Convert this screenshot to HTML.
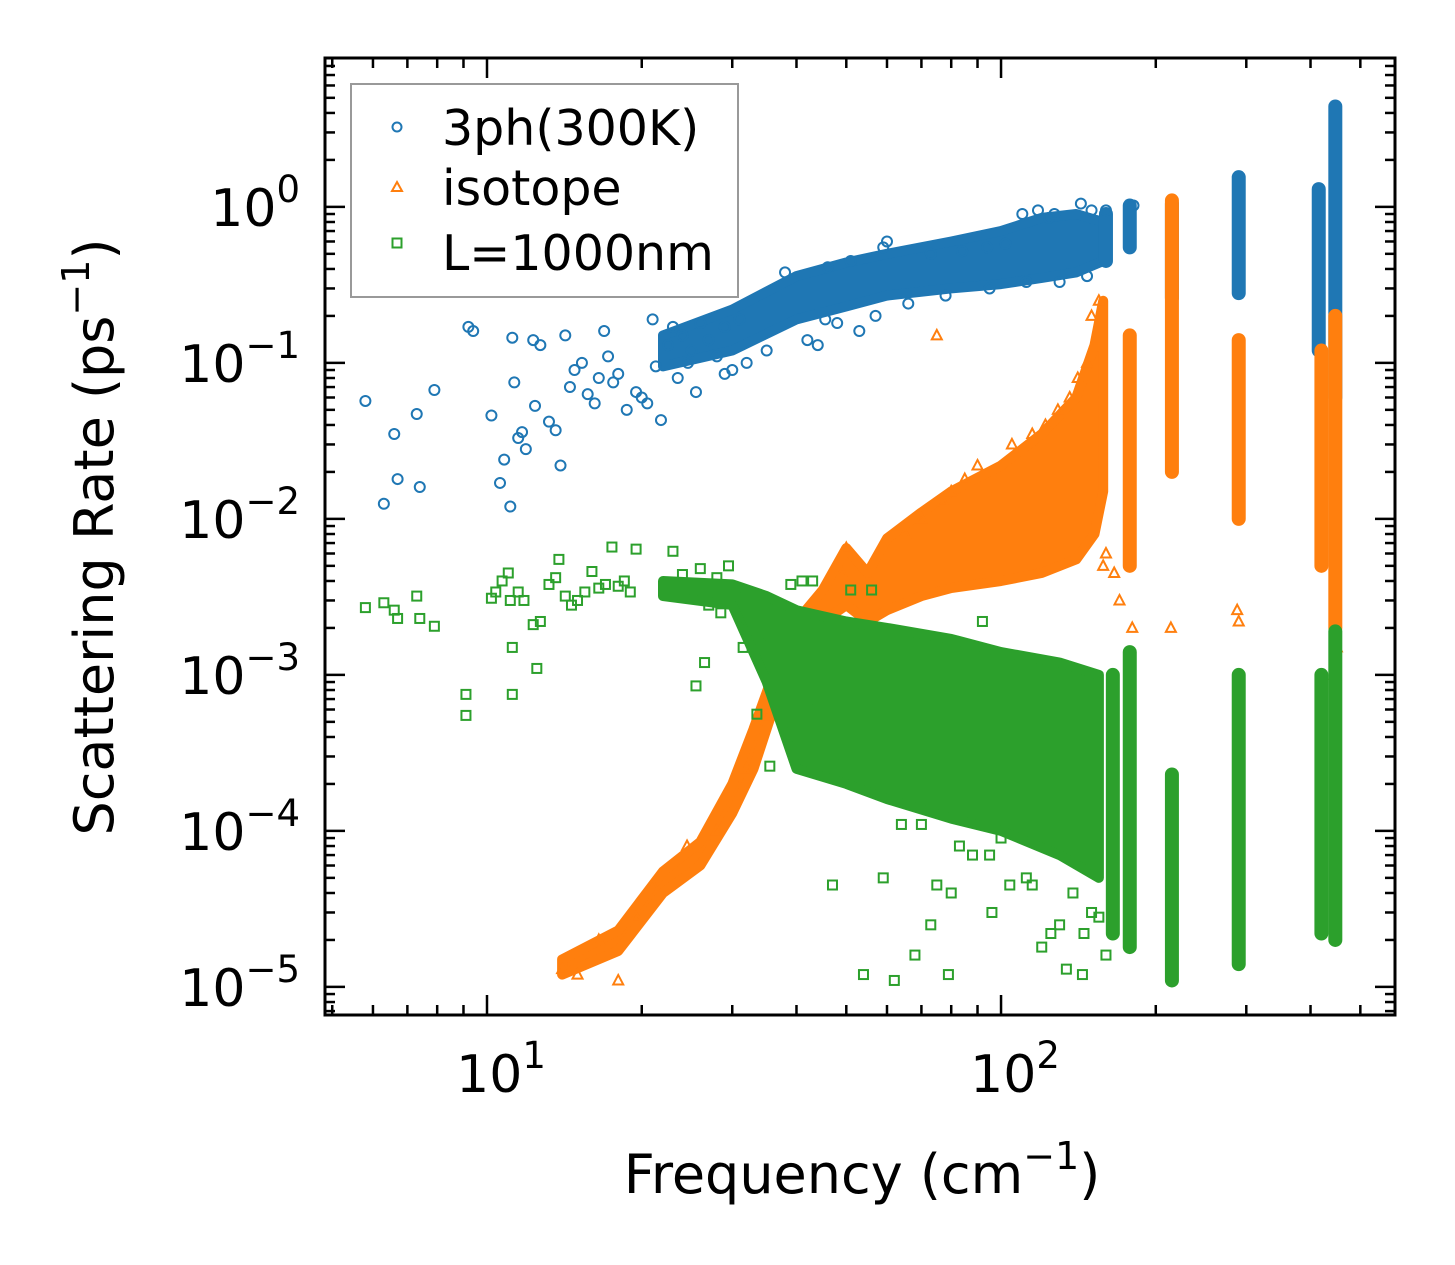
<!DOCTYPE html>
<html><head><meta charset="utf-8">
<style>
html,body{margin:0;padding:0;background:#fff;}
svg{display:block;font-family:"DejaVu Sans","Liberation Sans",sans-serif;}
</style></head>
<body>
<svg id="chart" width="1455" height="1265" viewBox="0 0 1455 1265" xmlns="http://www.w3.org/2000/svg">
<rect width="1455" height="1265" fill="#fff"/>
<g id="marks"></g>
<g id="axes"></g>
<text x="862" y="1193" font-size="54" text-anchor="middle">Frequency (cm<tspan font-size="38" dy="-24">−1</tspan><tspan dy="24">)</tspan></text>
<text transform="translate(113,537) rotate(-90)" font-size="54" text-anchor="middle">Scattering Rate (ps<tspan font-size="38" dy="-24">−1</tspan><tspan dy="24">)</tspan></text>
<g>
<rect x="351" y="84" width="387" height="213" fill="#fff" stroke="#999" stroke-width="2"/>
<circle cx="397" cy="127" r="4.5" fill="none" stroke="#1f77b4" stroke-width="2"/>
<text x="442" y="145" font-size="49">3ph(300K)</text>
<path d="M397,182 L402,191 L392,191 Z" fill="none" stroke="#ff7f0e" stroke-width="2"/>
<text x="442" y="205" font-size="49">isotope</text>
<rect x="392.5" y="238.5" width="9" height="9" fill="none" stroke="#2ca02c" stroke-width="2"/>
<text x="442" y="270" font-size="49">L=1000nm</text>
</g>
</svg>
<script>
// ---- data (freq cm^-1, rate ps^-1) ----
const xTickValues=[10,100];
const xTickLabels=["1","2"];
const yTickValues=[1,0.1,0.01,0.001,0.0001,0.00001];
const yTickLabels=["0","−1","−2","−3","−4","−5"];

const blueBand=[[22,0.095,0.15],[30,0.12,0.22],[40,0.19,0.36],[50,0.23,0.44],[60,0.27,0.5],[80,0.3,0.6],[100,0.32,0.7],[120,0.35,0.85],[140,0.38,0.9],[158,0.45,0.8]];
const blueColumns=[[160,0.45,0.9],[178,0.55,1.02],[215,0.26,1.05],[290,0.28,1.55],[415,0.12,1.3],[447,0.06,4.4]];
const bluePoints=[[5.8,0.057],[6.3,0.0125],[6.6,0.035],[6.7,0.018],[7.3,0.047],[7.4,0.016],[7.9,0.067],[9.2,0.17],[9.4,0.16],[10.2,0.046],[10.6,0.017],[10.8,0.024],[11.1,0.012],[11.2,0.145],[11.3,0.075],[11.5,0.033],[11.7,0.036],[11.9,0.028],[12.3,0.14],[12.4,0.053],[12.7,0.13],[13.2,0.042],[13.6,0.037],[13.9,0.022],[14.2,0.15],[14.5,0.07],[14.8,0.09],[15.3,0.1],[15.7,0.063],[16.2,0.055],[16.5,0.08],[16.9,0.16],[17.2,0.11],[17.6,0.075],[18,0.085],[18.7,0.05],[19.5,0.065],[20,0.06],[20.5,0.055],[21,0.19],[21.3,0.095],[21.8,0.043],[22.5,0.13],[23,0.17],[23.5,0.08],[24,0.15],[24.6,0.1],[25,0.12],[25.5,0.065],[26,0.18],[27,0.14],[28,0.11],[29,0.17],[30,0.09],[31,0.19],[35,0.12],[38,0.38],[42,0.14],[45.5,0.19],[46,0.41],[51,0.45],[53,0.16],[59,0.55],[60,0.6],[73,0.5],[84,0.52],[94,0.55],[102,0.58],[110,0.9],[118,0.95],[124,0.85],[127,0.9],[143,1.05],[150,0.95],[160,0.95],[181,1.02],[147,0.36],[130,0.33],[112,0.33],[95,0.3],[78,0.27],[66,0.24],[57,0.2],[48,0.18],[44,0.13],[32,0.1],[29,0.085]];

const orangeBand=[[14,1.2e-5,1.5e-5],[18,1.7e-5,2.3e-5],[22,4e-5,5.5e-5],[26,6e-5,8.5e-5],[30,1.3e-4,2e-4],[33,2.5e-4,4.5e-4],[36,6e-4,1e-3],[40,1.2e-3,2.2e-3],[45,2.2e-3,3.5e-3],[50,2.8e-3,6.5e-3],[55,2.2e-3,4.5e-3],[60,2.6e-3,7.5e-3],[70,3.2e-3,1.1e-2],[80,3.6e-3,1.5e-2],[100,4e-3,2.2e-2],[120,4.5e-3,3.5e-2],[140,5.5e-3,6e-2],[152,8e-3,1.3e-1],[158,1.5e-2,2.5e-1]];
const orangeColumns=[[178,5e-3,0.15],[215,0.02,1.1],[290,0.01,0.14],[420,5e-3,0.12],[447,2e-3,0.2]];
const orangePoints=[[14,1.3e-5],[15,1.2e-5],[16.5,2e-5],[18,1.1e-5],[19.5,2.8e-5],[21,4.5e-5],[24.5,8e-5],[28,1e-4],[32,2.5e-4],[35,5.5e-4],[38,1.1e-3],[42,2.2e-3],[49,4.5e-3],[50,6.5e-3],[52,6e-4],[55,1e-3],[57,1.5e-3],[65,8e-3],[70,1e-2],[75,0.15],[77,1.3e-2],[80,1.5e-2],[85,1.8e-2],[90,2.2e-2],[105,3e-2],[115,3.5e-2],[122,4e-2],[129,5e-2],[136,6e-2],[141,8e-2],[147,1e-1],[150,2e-1],[155,2.5e-1],[160,6e-3],[158,5e-3],[166,4.5e-3],[170,3e-3],[180,2e-3],[214,2e-3],[288,2.6e-3],[290,2.2e-3],[445,1e-3],[450,1.5e-3]];

const greenBand=[[22,3.2e-3,4e-3],[30,2.8e-3,3.8e-3],[35,9e-4,3.2e-3],[40,2.5e-4,2.6e-3],[50,2e-4,2.2e-3],[60,1.6e-4,2e-3],[80,1.2e-4,1.7e-3],[100,1e-4,1.4e-3],[130,7e-5,1.2e-3],[155,5e-5,1e-3]];
const greenColumns=[[165,2.2e-5,1e-3],[178,1.8e-5,1.4e-3],[215,1.1e-5,2.3e-4],[290,1.4e-5,1e-3],[420,2.2e-5,1e-3],[447,2e-5,1.9e-3]];
const greenPoints=[[5.8,2.7e-3],[6.3,2.9e-3],[6.6,2.6e-3],[6.7,2.3e-3],[7.3,3.2e-3],[7.4,2.3e-3],[7.9,2.05e-3],[9.1,7.5e-4],[9.1,5.5e-4],[10.2,3.1e-3],[10.4,3.4e-3],[10.7,4e-3],[11,4.5e-3],[11.1,3e-3],[11.2,7.5e-4],[11.2,1.5e-3],[11.5,3.4e-3],[11.8,3e-3],[12.3,2.1e-3],[12.5,1.1e-3],[12.7,2.2e-3],[13.2,3.8e-3],[13.6,4.2e-3],[13.8,5.5e-3],[14.2,3.2e-3],[14.6,2.8e-3],[15,3e-3],[15.5,3.4e-3],[16,4.6e-3],[16.5,3.6e-3],[17,3.8e-3],[17.5,6.6e-3],[18,3.7e-3],[18.5,4e-3],[19,3.4e-3],[19.5,6.4e-3],[23,6.2e-3],[24,4.4e-3],[25.5,8.5e-4],[26,4.8e-3],[26.5,1.2e-3],[27,2.8e-3],[28,4.2e-3],[28.5,2.5e-3],[29.5,5e-3],[31.5,1.5e-3],[32,2e-3],[33.5,5.6e-4],[34,1.8e-3],[35.5,2.6e-4],[36,1.5e-3],[39,3.8e-3],[41,4e-3],[43,4e-3],[44,6e-4],[47,4.5e-5],[49,3e-4],[51,3.5e-3],[53,4.5e-4],[54,1.2e-5],[56,3.5e-3],[59,5e-5],[62,1.1e-5],[64,1.1e-4],[68,1.6e-5],[70,1.1e-4],[73,2.5e-5],[75,4.5e-5],[79,1.2e-5],[80,4e-5],[83,8e-5],[88,7e-5],[92,2.2e-3],[95,7e-5],[96,3e-5],[100,9e-5],[104,4.5e-5],[112,5e-5],[115,4.5e-5],[120,1.8e-5],[125,2.2e-5],[130,2.5e-5],[134,1.3e-5],[138,4e-5],[144,1.2e-5],[145,2.2e-5],[150,3e-5],[155,2.8e-5],[160,1.6e-5]];

// ---- scales ----
const X0=325,X1=1395,Y0=58,Y1=1015;
const lxMin=Math.log10(4.84), lxMax=Math.log10(584);
const lyMin=-5.18, lyMax=Math.log10(9.0);
function sx(v){return X0+(Math.log10(v)-lxMin)/(lxMax-lxMin)*(X1-X0);}
function sy(v){return Y1-(Math.log10(v)-lyMin)/(lyMax-lyMin)*(Y1-Y0);}

const NS="http://www.w3.org/2000/svg";
const marks=document.getElementById('marks');
const axes=document.getElementById('axes');
function mk(tag,attrs,parent){const e=document.createElementNS(NS,tag);for(const k in attrs)e.setAttribute(k,attrs[k]);parent.appendChild(e);return e;}

function drawSeries(key,color,band,cols,pts,shape){
  const g=mk('g',{},marks);
  
  
  let d='';
  band.forEach((b,i)=>{d+=(i?'L':'M')+sx(b[0]).toFixed(1)+','+sy(b[2]).toFixed(1);});
  for(let i=band.length-1;i>=0;i--){d+='L'+sx(band[i][0]).toFixed(1)+','+sy(band[i][1]).toFixed(1);}
  d+='Z';
  const area=mk('path',{d:d,fill:color,stroke:color,'stroke-width':10,'stroke-linejoin':'round'},g);
  
  
  cols.forEach(c=>{
    const col=mk('line',{x1:sx(c[0]),x2:sx(c[0]),y1:sy(c[2]),y2:sy(c[1]),stroke:color,'stroke-width':14,'stroke-linecap':'round'},g);
    
    
  });
  pts.forEach(p=>{
    const x=sx(p[0]),y=sy(p[1]);
    let m;
    if(shape==='circle') m=mk('circle',{cx:x,cy:y,r:5,fill:'none',stroke:color,'stroke-width':2},g);
    else if(shape==='tri') m=mk('path',{d:`M${x},${y-5.5}L${x+5},${y+4}L${x-5},${y+4}Z`,fill:'none',stroke:color,'stroke-width':2},g);
    else m=mk('rect',{x:x-4.5,y:y-4.5,width:9,height:9,fill:'none',stroke:color,'stroke-width':2},g);
    
    
  });
}
drawSeries('3ph','#1f77b4',blueBand,blueColumns,bluePoints,'circle');
drawSeries('isotope','#ff7f0e',orangeBand,orangeColumns,orangePoints,'tri');
drawSeries('l1000','#2ca02c',greenBand,greenColumns,greenPoints,'square');

// ---- axes frame & ticks ----
const frame=mk('rect',{x:X0,y:Y0,width:X1-X0,height:Y1-Y0,fill:'none',stroke:'#000','stroke-width':3},axes);


function tick(x1,y1,x2,y2){const t=mk('line',{x1,y1,x2,y2,stroke:'#000','stroke-width':2.5},axes);}
for(let e=0;e<=2;e++){for(let m=1;m<=9;m++){const v=m*Math.pow(10,e);const x=sx(v);if(x<X0+2||x>X1-2)continue;const L=m===1?20:10;tick(x,Y1,x,Y1-L);tick(x,Y0,x,Y0+L);}}
for(let e=-6;e<=0;e++){for(let m=1;m<=9;m++){const v=m*Math.pow(10,e);const y=sy(v);if(y<Y0+2||y>Y1-2)continue;const L=m===1?20:10;tick(X0,y,X0+L,y);tick(X1,y,X1-L,y);}}
xTickValues.forEach((v,i)=>{
  const t=mk('text',{x:sx(v)+14,y:1092,'font-size':52,'text-anchor':'middle'},axes);
  
  
  t.innerHTML='10<tspan font-size="37" dy="-24">'+xTickLabels[i]+'</tspan>';
});
yTickValues.forEach((v,i)=>{
  const t=mk('text',{x:300,y:sy(v)+19,'font-size':52,'text-anchor':'end'},axes);
  
  
  t.innerHTML='10<tspan font-size="37" dy="-24">'+yTickLabels[i]+'</tspan>';
});
</script>
</body></html>
